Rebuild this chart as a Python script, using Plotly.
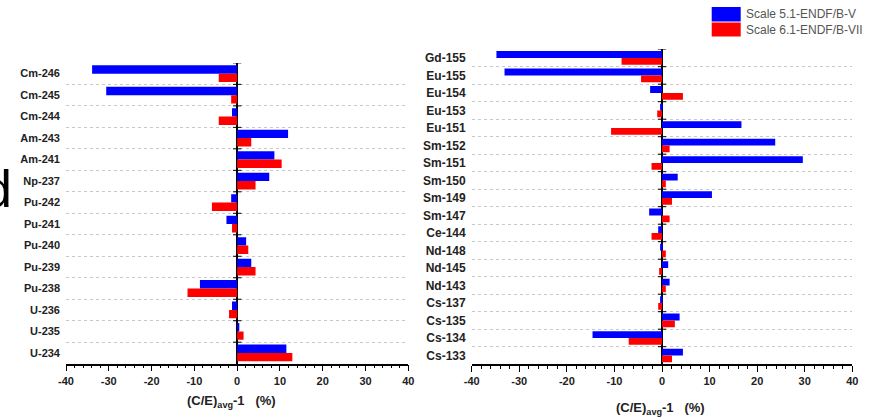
import plotly.graph_objects as go

# ---------------- data ----------------
left_isotopes = ["Cm-246", "Cm-245", "Cm-244", "Am-243", "Am-241", "Np-237", "Pu-242",
                 "Pu-241", "Pu-240", "Pu-239", "Pu-238", "U-236", "U-235", "U-234"]
left_scale51 = [-33.9, -30.6, -1.2, 11.9, 8.7, 7.5, -1.4, -2.5, 2.1, 3.3, -8.7, -1.2, 0.5, 11.5]
left_scale61 = [-4.3, -1.4, -4.3, 3.3, 10.4, 4.3, -5.9, -1.2, 2.6, 4.3, -11.6, -1.9, 1.5, 12.9]

right_isotopes = ["Gd-155", "Eu-155", "Eu-154", "Eu-153", "Eu-151", "Sm-152", "Sm-151",
                  "Sm-150", "Sm-149", "Sm-147", "Ce-144", "Nd-148", "Nd-145", "Nd-143",
                  "Cs-137", "Cs-135", "Cs-134", "Cs-133"]
right_scale51 = [-34.8, -33.1, -2.5, -0.4, 16.7, 23.8, 29.6, 3.3, 10.5, -2.7, -0.8, -0.4,
                 1.3, 1.6, -0.4, 3.7, -14.6, 4.4]
right_scale61 = [-8.5, -4.4, 4.4, -1.0, -10.7, 1.6, -2.2, 0.8, 2.1, 1.6, -2.2, 0.8,
                 -0.6, 0.8, -0.8, 2.7, -7.0, 2.1]

x_tick_values = [-40, -30, -20, -10, 0, 10, 20, 30, 40]
x_tick_labels = ["-40", "-30", "-20", "-10", "0", "10", "20", "30", "40"]

series_names = ["Scale 5.1-ENDF/B-V", "Scale 6.1-ENDF/B-VII"]
series_colors = ["#0000FF", "#FF0000"]

W, H = 875, 418
FONT = "Arial, Liberation Sans, sans-serif"

def px_x(v):
    return v / W

def px_y(v):
    return 1 - v / H

fig = go.Figure()

panels = [
    dict(cats=left_isotopes, a=left_scale51, b=left_scale61, xa="x", ya="y"),
    dict(cats=right_isotopes, a=right_scale51, b=right_scale61, xa="x2", ya="y2"),
]

for p in panels:
    pos = list(range(len(p["cats"])))
    for vals, name, col in zip([p["a"], p["b"]], series_names, series_colors):
        fig.add_trace(go.Bar(
            x=vals, y=pos, orientation="h", name=name,
            marker=dict(color=col, line=dict(width=0)),
            xaxis=p["xa"], yaxis=p["ya"], showlegend=False,
            hovertemplate="%{x}<extra>" + name + "</extra>",
        ))
    # small tick marks on the zero line at category boundaries
    bounds = [i - 0.5 for i in range(len(p["cats"]))]
    fig.add_trace(go.Scatter(
        x=[0] * len(bounds), y=bounds, mode="markers",
        marker=dict(symbol="line-ew-open", size=6, color="black",
                    line=dict(width=1, color="black")),
        xaxis=p["xa"], yaxis=p["ya"], showlegend=False, hoverinfo="skip",
    ))

def xaxis_cfg(domain, anchor):
    return dict(
        domain=domain, anchor=anchor, range=[-40, 40], automargin=False,
        tickmode="array", tickvals=x_tick_values, ticktext=x_tick_labels,
        ticks="outside", ticklen=6, tickwidth=1, tickcolor="black",
        showline=True, linecolor="black", linewidth=1.5,
        showgrid=False, zeroline=True, zerolinecolor="black", zerolinewidth=1.5,
        minor=dict(dtick=2, ticks="outside", ticklen=3, tickwidth=1, tickcolor="black"),
        tickfont=dict(family=FONT, size=11, color="#222", weight="bold"),
        fixedrange=True,
    )

def yaxis_cfg(domain, anchor, cats, fsize):
    n = len(cats)
    return dict(
        domain=domain, anchor=anchor, range=[n - 0.5, -0.5], automargin=False,
        tickmode="array", tickvals=list(range(n)), ticktext=cats,
        ticks="", showline=False, showgrid=False, zeroline=False,
        ticklabelstandoff=5,
        minor=dict(tickmode="array", tickvals=[i + 0.5 for i in range(n - 1)],
                   showgrid=True, gridcolor="#c8c8c8", griddash="dot", gridwidth=1),
        tickfont=dict(family=FONT, size=fsize, color="#222", weight="bold"),
        fixedrange=True,
    )

fig.update_layout(
    width=W, height=H, autosize=False,
    margin=dict(l=0, r=0, t=0, b=0, autoexpand=False),
    paper_bgcolor="white", plot_bgcolor="white",
    barmode="group", bargap=0.22, bargroupgap=0,
    showlegend=False,
    xaxis=xaxis_cfg([px_x(66), px_x(408.3)], "y"),
    yaxis=yaxis_cfg([px_y(363.7), px_y(62.9)], "x", left_isotopes, 11),
    xaxis2=xaxis_cfg([px_x(471.7), px_x(852.3)], "y2"),
    yaxis2=yaxis_cfg([px_y(364.2), px_y(49.2)], "x2", right_isotopes, 12),
)

title_text = "(C/E)<sub>avg</sub>-1&nbsp;&nbsp;&nbsp;(%)"
annotations = [
    dict(text=title_text, x=px_x(231.5), y=px_y(401), xref="paper", yref="paper",
         xanchor="center", yanchor="middle", showarrow=False,
         font=dict(family=FONT, size=13, color="#222", weight="bold")),
    dict(text=title_text, x=px_x(660.5), y=px_y(408), xref="paper", yref="paper",
         xanchor="center", yanchor="middle", showarrow=False,
         font=dict(family=FONT, size=13, color="#222", weight="bold")),
    dict(text="d", x=px_x(13.5), y=px_y(189), xref="paper", yref="paper",
         xanchor="right", yanchor="middle", showarrow=False,
         font=dict(family=FONT, size=52, color="black")),
]

# legend (manual)
shapes = []
leg_rows = [(7, 21.5), (22.5, 36.5)]
for (y0, y1), name, col in zip(leg_rows, series_names, series_colors):
    shapes.append(dict(type="rect", xref="paper", yref="paper",
                       x0=px_x(711.7), x1=px_x(740.7), y0=px_y(y1), y1=px_y(y0),
                       fillcolor=col, line=dict(width=0)))
    annotations.append(dict(text=name, x=px_x(743.5), y=px_y((y0 + y1) / 2),
                            xref="paper", yref="paper", xanchor="left", yanchor="middle",
                            showarrow=False,
                            font=dict(family=FONT, size=12, color="#555")))

fig.update_layout(annotations=annotations, shapes=shapes)

fig.write_html(
    "out.html",
    config={"displayModeBar": False},
    post_script="document.body.style.margin='0';document.body.style.overflow='hidden';",
)
